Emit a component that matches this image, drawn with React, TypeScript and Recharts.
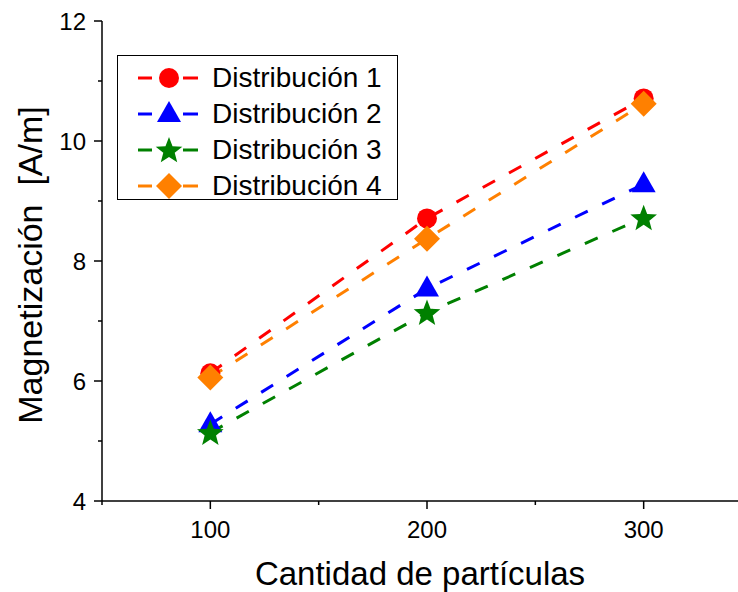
import React from 'react';
import { LineChart, Line, XAxis, YAxis } from 'recharts';

const particles = [100, 200, 300];
const dist1 = [6.13, 8.71, 10.71];
const dist2 = [5.28, 7.54, 9.28];
const dist3 = [5.14, 7.14, 8.72];
const dist4 = [6.06, 8.37, 10.62];

const xTicks = [50, 100, 150, 200, 250, 300, 350];
const yTicks = [4, 5, 6, 7, 8, 9, 10, 11, 12];

const FONT = '"Liberation Sans", Arial, sans-serif';

const series = [
  { key: 'd1', name: 'Distribución 1', color: '#ff0000', shape: 'circle' },
  { key: 'd2', name: 'Distribución 2', color: '#0000ff', shape: 'triangle' },
  { key: 'd3', name: 'Distribución 3', color: '#008000', shape: 'star' },
  { key: 'd4', name: 'Distribución 4', color: '#ff8000', shape: 'diamond' },
];

const data = particles.map((p, i) => ({
  x: p, d1: dist1[i], d2: dist2[i], d3: dist3[i], d4: dist4[i],
}));

function starPoints(cx: number, cy: number, outer: number, inner: number) {
  const pts: string[] = [];
  for (let i = 0; i < 10; i++) {
    const r = i % 2 === 0 ? outer : inner;
    const a = -Math.PI / 2 + (i * Math.PI) / 5;
    pts.push(`${cx + r * Math.cos(a)},${cy + r * Math.sin(a)}`);
  }
  return pts.join(' ');
}

function Marker({ shape, cx, cy, color }: { shape: string; cx: number; cy: number; color: string }) {
  if (shape === 'circle') return <circle cx={cx} cy={cy} r={10} fill={color} />;
  if (shape === 'triangle')
    return <polygon points={`${cx},${cy - 13} ${cx + 12},${cy + 8} ${cx - 12},${cy + 8}`} fill={color} />;
  if (shape === 'star') return <polygon points={starPoints(cx, cy + 1, 14, 6)} fill={color} />;
  return <polygon points={`${cx},${cy - 13} ${cx + 13},${cy} ${cx},${cy + 13} ${cx - 13},${cy}`} fill={color} />;
}

const XTick = (props: any) => {
  const { x, y, payload } = props;
  const major = payload.value % 100 === 0;
  return (
    <g>
      <line x1={x} x2={x} y1={y} y2={y + (major ? 8 : 4)} stroke="#000" strokeWidth={1.5} />
      {major && (
        <text x={x} y={y + 37} textAnchor="middle" fontSize={24} fontFamily={FONT} fill="#000">
          {payload.value}
        </text>
      )}
    </g>
  );
};

const YTick = (props: any) => {
  const { x, y, payload } = props;
  const major = payload.value % 2 === 0;
  return (
    <g>
      <line x1={x} x2={x - (major ? 8 : 4)} y1={y} y2={y} stroke="#000" strokeWidth={1.5} />
      {major && (
        <text x={x - 16} y={y + 9} textAnchor="end" fontSize={24} fontFamily={FONT} fill="#000">
          {payload.value}
        </text>
      )}
    </g>
  );
};

const LegendBox = () => (
  <div
    style={{
      position: 'absolute', left: 117, top: 55, border: '1.5px solid #000', background: '#fff',
      width: 281, height: 145, boxSizing: 'border-box', paddingTop: 4,
    }}
  >
    {series.map((s) => (
      <div key={s.key} style={{ display: 'flex', alignItems: 'center', height: 36 }}>
        <svg width={92} height={36} style={{ flex: 'none' }}>
          <line x1={20} x2={34} y1={18} y2={18} stroke={s.color} strokeWidth={3} />
          <line x1={65} x2={80} y1={18} y2={18} stroke={s.color} strokeWidth={3} />
          <Marker shape={s.shape} cx={51} cy={18} color={s.color} />
        </svg>
        <span style={{ fontFamily: FONT, fontSize: 28, color: '#000', marginLeft: 2, lineHeight: '36px' }}>{s.name}</span>
      </div>
    ))}
  </div>
);

export default function App() {
  return (
    <div style={{ position: 'absolute', left: 0, top: 0, width: 738, height: 592, overflow: 'hidden', background: '#fff' }}>
      <LineChart width={752} height={592} data={data} margin={{ top: 21, right: 0, bottom: 31, left: 2 }}>
        <XAxis
          type="number"
          dataKey="x"
          domain={[50, 350]}
          ticks={xTicks}
          interval={0}
          tickSize={0}
          tickMargin={0}
          tickLine={false}
          height={60}
          axisLine={{ stroke: '#000', strokeWidth: 1.5 }}
          tick={<XTick />}
          label={{
            content: () => (
              <text x={420} y={585} textAnchor="middle" fontSize={33} fontFamily={FONT} fill="#000">
                Cantidad de partículas
              </text>
            ),
          }}
        />
        <YAxis
          type="number"
          domain={[4, 12]}
          ticks={yTicks}
          interval={0}
          width={100}
          tickSize={0}
          tickMargin={0}
          tickLine={false}
          axisLine={{ stroke: '#000', strokeWidth: 1.5 }}
          tick={<YTick />}
          label={{
            content: () => (
              <text
                x={0}
                y={0}
                transform="translate(42 265) rotate(-90)"
                textAnchor="middle"
                fontSize={34}
                fontFamily={FONT}
                fill="#000"
                style={{ whiteSpace: 'pre' }}
              >
                Magnetización  [A/m]
              </text>
            ),
          }}
        />
        {series.map((s) => (
          <Line
            key={s.key}
            dataKey={s.key}
            name={s.name}
            type="linear"
            stroke={s.color}
            strokeWidth={3}
            strokeDasharray="14 16"
            isAnimationActive={false}
            legendType="none"
            dot={(p: any) => <Marker key={`${s.key}-${p.index}`} shape={s.shape} cx={p.cx} cy={p.cy} color={s.color} />}
            activeDot={false}
          />
        ))}
      </LineChart>
      <LegendBox />
    </div>
  );
}
